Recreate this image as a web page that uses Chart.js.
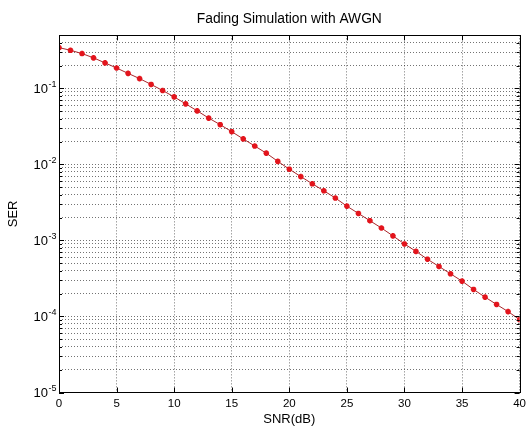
<!DOCTYPE html>
<html lang="en">
<head>
    <meta charset="UTF-8">
    <title>Fading Simulation with AWGN</title>
    <script src="https://cdn.jsdelivr.net/npm/chart.js"></script>
    <style>
        html, body { margin: 0; padding: 0; background: #fff; }
        #myChart { display: block; }
    </style>
</head>
<body>
    <canvas id="myChart" width="530" height="427"></canvas>
<script>
    // значения
    const snr = [0, 1, 2, 3, 4, 5, 6, 7, 8, 9, 10, 11, 12, 13, 14, 15, 16, 17, 18, 19, 20,
                 21, 22, 23, 24, 25, 26, 27, 28, 29, 30, 31, 32, 33, 34, 35, 36, 37, 38, 39, 40]
    const ser = [0.345, 0.318, 0.288, 0.253, 0.217, 0.186, 0.158, 0.135, 0.113, 0.094,
                 0.0775, 0.0628, 0.0508, 0.0408, 0.0334, 0.0270, 0.0217, 0.0175, 0.0141, 0.0110,
                 0.00867, 0.00693, 0.00557, 0.00451, 0.00362, 0.00283, 0.00227, 0.00182, 0.00146, 0.00115,
                 0.00090, 0.00072, 0.000567, 0.000455, 0.000365, 0.000292, 0.000227, 0.000180, 0.000144, 0.000116,
                 0.000091]
    const xTicks = [0, 5, 10, 15, 20, 25, 30, 35, 40]
    const yMajor = [1e-5, 1e-4, 1e-3, 1e-2, 1e-1]
    const yExp = ['-5', '-4', '-3', '-2', '-1']
    const yMin = 1e-5
    const yMax = 0.5

    const font = '"Liberation Sans", Arial, sans-serif'

    // все линии сетки: 1..9 * 10^n
    const yTicks = []
    yMajor.forEach(m => {
      for (let k = 1; k <= 9; k++) {
        const v = +(m * k).toPrecision(3)
        if (v >= yMin && v < yMax) yTicks.push(v)
      }
    })

    // рамка, засечки внутрь и подписи 10^n, как в matlab
    const boxPlugin = {
      id: 'box',
      afterDatasetsDraw(chart) {
        const { ctx, chartArea: a, scales } = chart
        ctx.save()
        ctx.strokeStyle = '#000'
        ctx.lineWidth = 1
        ctx.beginPath()
        scales.x.ticks.forEach(t => {
          const px = Math.round(scales.x.getPixelForValue(t.value)) + 0.5
          ctx.moveTo(px, a.bottom); ctx.lineTo(px, a.bottom - 5)
          ctx.moveTo(px, a.top); ctx.lineTo(px, a.top + 5)
        })
        scales.y.ticks.forEach(t => {
          const py = Math.round(scales.y.getPixelForValue(t.value)) + 0.5
          const len = yMajor.includes(t.value) ? 5 : 3
          ctx.moveTo(a.left, py); ctx.lineTo(a.left + len, py)
          ctx.moveTo(a.right, py); ctx.lineTo(a.right - len, py)
        })
        ctx.stroke()
        ctx.strokeRect(Math.round(a.left) + 0.5, Math.round(a.top) + 0.5,
                       Math.round(a.right - a.left), Math.round(a.bottom - a.top))

        // подписи оси Y
        ctx.fillStyle = '#000'
        ctx.textBaseline = 'middle'
        yMajor.forEach((v, i) => {
          const py = scales.y.getPixelForValue(v)
          const right = a.left - 2.5
          ctx.font = '9px ' + font
          const ew = ctx.measureText(yExp[i]).width
          ctx.textAlign = 'right'
          ctx.fillText(yExp[i], right, py - 4)
          ctx.font = '13px ' + font
          ctx.fillText('10', right - ew - 0.5, py + 1)
        })
        ctx.restore()
      }
    }

    const gridStyle = {
      color: 'rgba(0,0,0,0.55)',
      lineWidth: 1,
      drawTicks: false
    }

    const ctx = document.getElementById('myChart').getContext('2d')
    const chart = new Chart(ctx, {
      type: 'line',
      data: {
        datasets: [{
          data: snr.map((x, i) => ({ x, y: ser[i] })),
          borderColor: '#a8262a',
          borderWidth: 1,
          pointStyle: 'star',
          pointRadius: 2.8,
          pointBorderWidth: 1.8,
          pointBorderColor: '#e3141c',
          pointBackgroundColor: '#e3141c',
          tension: 0
        }]
      },
      options: {
        responsive: false,
        animation: false,
        devicePixelRatio: 1,
        layout: { padding: { left: 0, right: 7, top: 0, bottom: 0 } },
        scales: {
          x: {
            type: 'linear',
            min: 0,
            max: 40,
            afterBuildTicks: (scale) => { scale.ticks = xTicks.map(v => ({ value: v })) },
            afterFit: (scale) => { scale.height = 34.5 },
            grid: gridStyle,
            border: { display: false, dash: [1, 2] }, // в v4 dash задаёт пунктир сетки
            ticks: {
              padding: 4,
              color: '#000',
              font: { family: font, size: 11.5 },
              maxRotation: 0
            },
            title: {
              display: true,
              text: 'SNR(dB)',
              color: '#000',
              font: { family: font, size: 13 },
              padding: { top: 0, bottom: 0 }
            }
          },
          y: {
            type: 'logarithmic',
            min: yMin,
            max: yMax,
            afterBuildTicks: (scale) => { scale.ticks = yTicks.map(v => ({ value: v })) },
            afterFit: (scale) => { scale.width = 59 },
            grid: gridStyle,
            border: { display: false, dash: [1, 2] },
            ticks: { display: false, autoSkip: false },
            title: {
              display: true,
              text: 'SER',
              color: '#000',
              font: { family: font, size: 13 },
              padding: { top: 6, bottom: 0 }
            }
          }
        },
        plugins: {
          legend: { display: false },
          tooltip: { enabled: false },
          title: {
            display: true,
            fullSize: false,
            text: 'Fading Simulation with AWGN',
            color: '#000',
            font: { family: font, size: 13.8, weight: 'normal' },
            padding: { top: 11, bottom: 7.8 }
          }
        }
      },
      plugins: [boxPlugin]
    })
</script>
</body>
</html>
